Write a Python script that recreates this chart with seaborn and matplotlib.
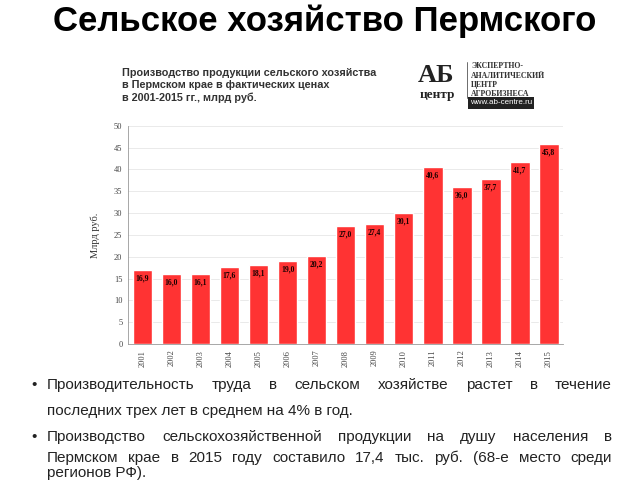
import matplotlib
matplotlib.use("Agg")
import matplotlib.pyplot as plt
import seaborn as sns
import pandas as pd

# data
years = [str(y) for y in range(2001, 2016)]
values = [16.9, 16.0, 16.1, 17.6, 18.1, 19.0, 20.2, 27.0, 27.4, 30.1,
          40.6, 36.0, 37.7, 41.7, 45.8]
y_ticks = [0, 5, 10, 15, 20, 25, 30, 35, 40, 45, 50]

title = "Сельское хозяйство Пермского"
chart_title = ["Производство продукции сельского хозяйства",
               "в Пермском крае в фактических ценах",
               "в 2001-2015 гг., млрд руб."]
y_label = "Млрд руб."
logo_lines = ["ЭКСПЕРТНО-", "АНАЛИТИЧЕСКИЙ", "ЦЕНТР", "АГРОБИЗНЕСА"]
bullets = [
    ["Производительность труда в сельском хозяйстве растет в течение",
     "последних трех лет в среднем на 4% в год."],
    ["Производство сельскохозяйственной продукции на душу населения в",
     "Пермском крае в 2015 году составило 17,4 тыс. руб. (68-е место среди",
     "регионов РФ)."],
]

sns.set_theme(style="white")
plt.rcParams['font.family'] = ['Liberation Sans', 'DejaVu Sans']
serif = ["Liberation Serif", "DejaVu Serif"]

df = pd.DataFrame({"year": years, "value": values})

fig = plt.figure(figsize=(6.4, 4.8), dpi=100)
ax = fig.add_axes([0.2, 0.283, 0.68, 0.455])
sns.barplot(data=df, x="year", y="value", color="#ff3333", saturation=1,
            width=0.68, ax=ax)
ax.set_ylim(0, 50)
ax.set_yticks(y_ticks)
ax.set_xlim(-0.5, len(years) - 0.5)
ax.yaxis.grid(True, color="#e6e6e6", linewidth=0.6)
ax.set_axisbelow(True)
for s in ["top", "right"]:
    ax.spines[s].set_visible(False)
for s in ["left", "bottom"]:
    ax.spines[s].set_color("#999999")
    ax.spines[s].set_linewidth(0.6)
ax.tick_params(axis="y", labelsize=6, colors="#444444", length=2, pad=2)
ax.tick_params(axis="x", labelsize=6, colors="#444444", length=2, pad=2,
               labelrotation=90)
for lab in ax.get_xticklabels() + ax.get_yticklabels():
    lab.set_family(serif)
ax.set_xlabel("")
ax.set_ylabel(y_label, fontsize=7.5, family=serif, color="#333333",
              labelpad=10)

for i, v in enumerate(values):
    ax.text(i, v - 1.0, f"{v:.1f}".replace(".", ","), ha="center", va="top",
            fontsize=5.5, fontweight="bold", color="#1a0000", family=serif)

# slide title
fig.text(0.508, 0.955, title, ha="center", va="center", fontsize=25,
         fontweight="bold", color="black")

# chart caption
for k, line in enumerate(chart_title):
    fig.text(0.19, 1 - (73 + k * 12.5) / 480, line, ha="left", va="center",
             fontsize=7.8, fontweight="bold", color="#333333")

# logo
fig.text(0.652, 1 - 76 / 480, "АБ", ha="left", va="center", fontsize=19,
         fontweight="bold", color="#222222", family=serif)
fig.text(0.655, 1 - 95 / 480, "центр", ha="left", va="center", fontsize=9.5,
         fontweight="bold", color="#222222", family=serif)
fig.add_artist(plt.Line2D([467 / 640, 467 / 640], [1 - 98 / 480, 1 - 62 / 480],
                          color="#555555", linewidth=0.6))
for k, line in enumerate(logo_lines):
    fig.text(471 / 640, 1 - (66 + k * 9.5) / 480, line, ha="left",
             va="center", fontsize=5.6, fontweight="bold", color="#333333",
             family=serif)
fig.text(470 / 640, 1 - 103 / 480, "www.ab-centre.ru", ha="left",
         va="center", fontsize=5.8, color="white",
         bbox=dict(boxstyle="square,pad=0.25", fc="#222222", ec="none"))

# bullets, justified
renderer = fig.canvas.get_renderer()
x_left, x_right = 47 / 640, 612 / 640
line_y = [[385, 411], [437, 458, 473]]
fs = 11
for b, lines in enumerate(bullets):
    fig.text(31 / 640, 1 - line_y[b][0] / 480, "•", ha="left", va="center",
             fontsize=fs, color="#222222")
    for k, line in enumerate(lines):
        y = 1 - line_y[b][k] / 480
        if k == len(lines) - 1:
            fig.text(x_left, y, line, ha="left", va="center", fontsize=fs,
                     color="#222222")
            continue
        words = line.split(" ")
        arts = [fig.text(0, y, w, ha="left", va="center", fontsize=fs,
                         color="#222222") for w in words]
        widths = [a.get_window_extent(renderer).width / fig.bbox.width
                  for a in arts]
        gap = (x_right - x_left - sum(widths)) / (len(words) - 1)
        x = x_left
        for a, w in zip(arts, widths):
            a.set_x(x)
            x += w + gap

fig.savefig("out.png", dpi=100)
